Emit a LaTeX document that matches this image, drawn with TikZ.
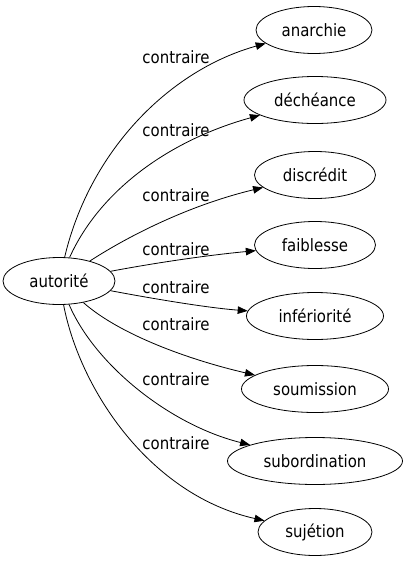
\documentclass[tikz,border=0pt]{standalone}
\usepackage{fontspec}
\setmainfont[FakeStretch=0.88]{DejaVu Sans}
\usetikzlibrary{shapes.geometric,arrows.meta}
\tikzset{
  word/.style={ellipse,draw=black,line width=0.8pt,inner sep=0pt,minimum height=47pt,font=\fontsize{17pt}{20pt}\selectfont},
  lbl/.style={inner sep=0pt,font=\fontsize{17pt}{20pt}\selectfont},
  rel/.style={draw=black,line width=0.8pt,-{Triangle[length=10pt,width=7.5pt]}}
}
\begin{document}
\begin{tikzpicture}[x=1pt,y=-1pt]
\useasboundingbox (0,0) rectangle (406,563);
\node[word,minimum width=112pt] (aut) at (59,281) {autorité};
\node[word,minimum width=116pt] (t1) at (314,30) {anarchie};
\node[word,minimum width=142pt] (t2) at (315,100) {déchéance};
\node[word,minimum width=121pt] (t3) at (315,175) {discrédit};
\node[word,minimum width=121pt] (t4) at (315,245) {faiblesse};
\node[word,minimum width=137pt] (t5) at (315,316) {infériorité};
\node[word,minimum width=147pt] (t6) at (315,389) {soumission};
\node[word,minimum width=175pt] (t7) at (315,461) {subordination};
\node[word,minimum width=114pt] (t8) at (315,532) {sujétion};
\draw[rel] (aut) .. controls (90,150) and (170,70) .. (t1);
\draw[rel] (aut) .. controls (100,190) and (170,140) .. (t2);
\draw[rel] (aut) .. controls (130,235) and (190,205) .. (t3);
\draw[rel] (aut) .. controls (160,262) and (210,255) .. (t4);
\draw[rel] (aut) .. controls (160,300) and (210,308) .. (t5);
\draw[rel] (aut) .. controls (120,335) and (190,360) .. (t6);
\draw[rel] (aut) .. controls (95,365) and (170,425) .. (t7);
\draw[rel] (aut) .. controls (80,390) and (150,495) .. (t8);
\node[lbl] (l1) at (176,57) {contraire};
\node[lbl] (l2) at (176,130) {contraire};
\node[lbl] (l3) at (176,195) {contraire};
\node[lbl] (l4) at (176,249) {contraire};
\node[lbl] (l5) at (176,287) {contraire};
\node[lbl] (l6) at (176,324) {contraire};
\node[lbl] (l7) at (176,379) {contraire};
\node[lbl] (l8) at (176,443) {contraire};
\end{tikzpicture}
\end{document}
